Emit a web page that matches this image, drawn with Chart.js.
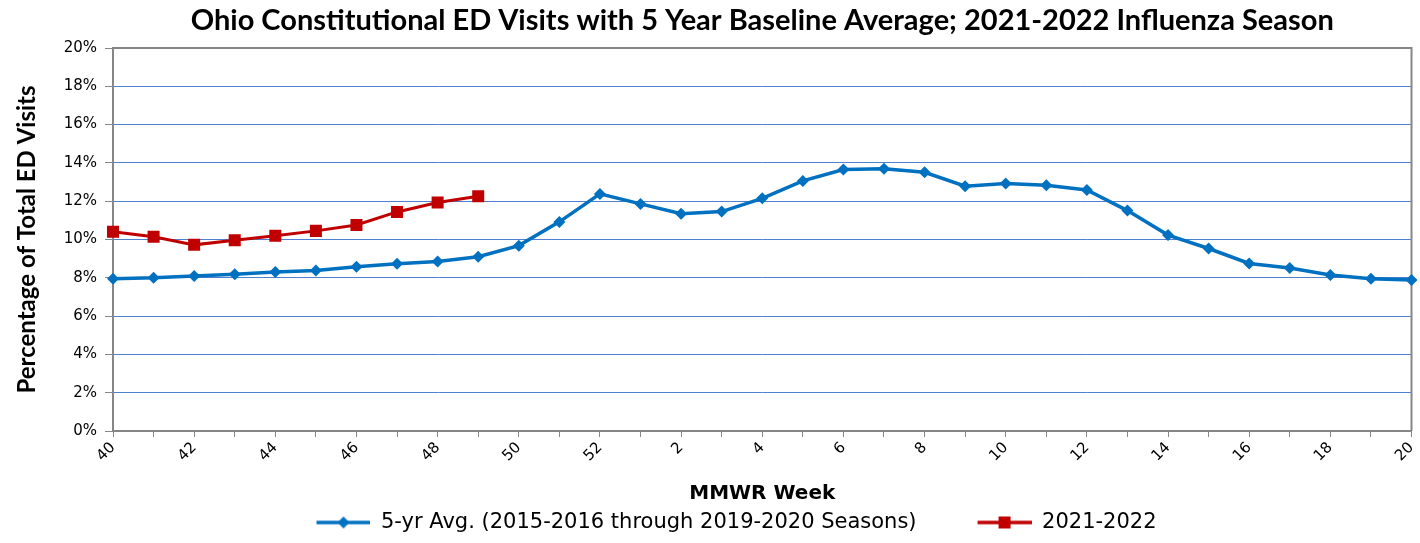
<!DOCTYPE html>
<html>
<head>
<meta charset="utf-8">
<script src="https://cdn.jsdelivr.net/npm/chart.js@4"></script>
<style>
    html, body { margin: 0; padding: 0; background: #ffffff; }
    #wrap { width: 1420px; height: 543px; }
</style>
</head>
<body>
<div id="wrap"><canvas id="ed"></canvas></div>
<script>
const weeks = ['40', '41', '42', '43', '44', '45', '46', '47', '48', '49', '50', '51', '52',
    '1', '2', '3', '4', '5', '6', '7', '8', '9', '10', '11', '12', '13', '14', '15', '16', '17', '18', '19', '20'];

// 5-yr Avg. (2015-2016 through 2019-2020 Seasons), percent
const avg5yr = [7.95, 8.0, 8.1, 8.18, 8.3, 8.38, 8.58, 8.73, 8.85, 9.1, 9.68, 10.92, 12.38,
    11.86, 11.35, 11.46, 12.15, 13.06, 13.65, 13.7, 13.51, 12.78, 12.92, 12.83, 12.59, 11.51,
    10.23, 9.53, 8.75, 8.51, 8.15, 7.95, 7.88];

// 2021-2022 season, percent
const season2122 = [10.4, 10.14, 9.72, 9.96, 10.2, 10.45, 10.76, 11.44, 11.93, 12.26];

const yTicks = [0, 2, 4, 6, 8, 10, 12, 14, 16, 18, 20];

const titleText = 'Ohio Constitutional ED Visits with 5 Year Baseline Average; 2021-2022 Influenza Season';
const titleFont = 'Lato, "Liberation Sans", sans-serif';
const bodyFont = '"DejaVu Sans", "Liberation Sans", sans-serif';
const blue = '#0070C0';
const red = '#C00000';
const axisGray = '#868686';

function legendMark(color, style)
{
    let c = document.createElement('canvas');
    c.width = 115;
    c.height = 16;
    let ctx = c.getContext('2d');
    ctx.strokeStyle = color;
    ctx.lineWidth = 3.5;
    ctx.beginPath();
    ctx.moveTo(61, 8);
    ctx.lineTo(115, 8);
    ctx.stroke();
    ctx.fillStyle = color;
    if (style === 'diamond')
    {
        ctx.beginPath();
        ctx.moveTo(88, 2);
        ctx.lineTo(94, 8);
        ctx.lineTo(88, 14);
        ctx.lineTo(82, 8);
        ctx.closePath();
        ctx.fill();
    }
    else
    {
        ctx.fillRect(82, 2, 12, 12);
    }
    return c;
}

const marks = [legendMark(blue, 'diamond'), legendMark(red, 'square')];

const plotFrame = {
    id: 'plotFrame',
    beforeDatasetsDraw(chart)
    {
        let a = chart.chartArea;
        let ctx = chart.ctx;
        ctx.save();
        ctx.strokeStyle = axisGray;
        ctx.lineWidth = 2;
        ctx.beginPath();
        ctx.moveTo(a.left, a.top);
        ctx.lineTo(a.right, a.top);
        ctx.lineTo(a.right, a.bottom);
        ctx.stroke();
        ctx.restore();
    },
    afterDraw(chart)
    {
        let a = chart.chartArea;
        let ctx = chart.ctx;
        ctx.save();
        ctx.fillStyle = '#000000';
        ctx.font = 'bold 29px ' + titleFont;
        ctx.textAlign = 'center';
        ctx.textBaseline = 'middle';
        ctx.fillText(titleText, (a.left + a.right) / 2, 21);
        ctx.restore();
    }
};

let config = {
    type: 'line',
    data: {
        labels: weeks,
        datasets: [
            {
                label: '5-yr Avg. (2015-2016 through 2019-2020 Seasons)',
                data: avg5yr,
                borderColor: blue,
                backgroundColor: blue,
                borderWidth: 3.5,
                pointStyle: 'rectRot',
                pointRadius: 6,
                pointHoverRadius: 6,
                pointBorderWidth: 0,
                tension: 0,
            },
            {
                label: '2021-2022',
                data: season2122,
                borderColor: red,
                backgroundColor: red,
                borderWidth: 3,
                pointStyle: 'rect',
                pointRadius: 8.5,
                pointHoverRadius: 8.5,
                pointBorderWidth: 0,
                tension: 0,
            },
        ]
    },
    options: {
        responsive: true,
        maintainAspectRatio: false,
        animation: false,
        layout: {
            padding: { left: 0, right: 8, top: 48, bottom: 0 },
        },
        scales: {
            x: {
                type: 'category',
                offset: false,
                grid: {
                    drawOnChartArea: false,
                    drawTicks: true,
                    tickLength: 6,
                    tickColor: axisGray,
                    offset: false,
                },
                border: { color: axisGray, width: 2 },
                ticks: {
                    autoSkip: false,
                    maxRotation: 45,
                    minRotation: 45,
                    color: '#000000',
                    font: { family: bodyFont, size: 15 },
                    padding: 2,
                    callback: function (value, index)
                    {
                        return index % 2 === 0 ? weeks[index] : '';
                    },
                },
                title: {
                    display: true,
                    text: 'MMWR Week',
                    color: '#000000',
                    font: { family: bodyFont, size: 20, weight: 'bold' },
                    padding: { top: 4, bottom: 6 },
                },
                afterFit: function (scale)
                {
                    scale.height = 81;
                    scale.paddingLeft = 0;
                    scale.paddingRight = 0;
                },
            },
            y: {
                min: 0,
                max: 20,
                afterBuildTicks: function (scale)
                {
                    scale.ticks = yTicks.map(v => ({ value: v }));
                },
                grid: {
                    color: '#4F81D0',
                    lineWidth: 1,
                    drawTicks: true,
                    tickLength: 8,
                    tickColor: axisGray,
                },
                border: { color: axisGray, width: 2 },
                ticks: {
                    color: '#000000',
                    font: { family: bodyFont, size: 15 },
                    padding: 8,
                    callback: v => v + '%',
                },
                title: {
                    display: true,
                    text: 'Percentage of Total ED Visits',
                    color: '#000000',
                    font: { family: titleFont, size: 24, weight: 'bold' },
                    padding: { top: 13, bottom: 0 },
                },
                afterFit: function (scale)
                {
                    scale.width = 113;
                },
            },
        },
        plugins: {
            title: { display: false },
            tooltip: { enabled: false },
            legend: {
                position: 'bottom',
                labels: {
                    usePointStyle: true,
                    pointStyleWidth: 115,
                    padding: 0,
                    color: '#000000',
                    font: { family: bodyFont, size: 21 },
                    generateLabels: function (chart)
                    {
                        return chart.data.datasets.map((ds, i) => ({
                            text: ds.label,
                            pointStyle: marks[i],
                            fillStyle: ds.borderColor,
                            strokeStyle: ds.borderColor,
                            lineWidth: 0,
                            hidden: false,
                            datasetIndex: i,
                            fontColor: '#000000',
                        }));
                    },
                },
            },
        },
    },
    plugins: [plotFrame],
};

let chart = new Chart('ed', config);
</script>
</body>
</html>
